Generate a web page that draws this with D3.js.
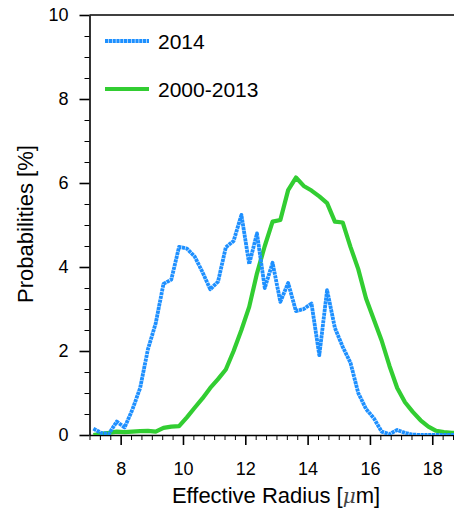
<!DOCTYPE html>
<html>
<head>
<meta charset="utf-8">
<script src="https://cdn.jsdelivr.net/npm/d3@7"></script>
<style>
  html, body { margin: 0; padding: 0; background: #fff; }
  svg { display: block; }
  text { font-family: "Liberation Sans", Arial, Helvetica, sans-serif; fill: #000; }
</style>
</head>
<body>
<svg id="chart" width="454" height="512"></svg>
<script>
// ---- data ----
const radius = [7.125, 7.375, 7.625, 7.875, 8.125, 8.375, 8.625, 8.875, 9.125, 9.375,
  9.625, 9.875, 10.125, 10.375, 10.625, 10.875, 11.125, 11.375, 11.625, 11.875,
  12.125, 12.375, 12.625, 12.875, 13.125, 13.375, 13.625, 13.875, 14.125, 14.375,
  14.625, 14.875, 15.125, 15.375, 15.625, 15.875, 16.125, 16.375, 16.625, 16.875,
  17.125, 17.375, 17.625, 17.875, 18.125, 18.375, 18.625, 18.875];
const prob2014 = [0.15, 0.05, 0.03, 0.32, 0.18, 0.6, 1.12, 2.04, 2.66, 3.6,
  3.7, 4.48, 4.44, 4.25, 3.88, 3.47, 3.65, 4.47, 4.62, 5.24,
  4.07, 4.8, 3.5, 4.1, 3.17, 3.62, 2.95, 3.0, 3.13, 1.9,
  3.45, 2.55, 2.1, 1.72, 1.0, 0.62, 0.4, 0.08, 0.02, 0.12,
  0.05, 0.01, 0.0, 0.0, 0.0, 0.0, 0.0, 0.0];
const prob2000_2013 = [0.0, 0.03, 0.05, 0.08, 0.07, 0.08, 0.09, 0.1, 0.08, 0.17,
  0.2, 0.21, 0.42, 0.65, 0.87, 1.12, 1.33, 1.56, 2.0, 2.5,
  3.05, 3.85, 4.5, 5.08, 5.12, 5.83, 6.13, 5.93, 5.82, 5.68,
  5.52, 5.08, 5.06, 4.48, 3.95, 3.25, 2.75, 2.25, 1.65, 1.12,
  0.78, 0.55, 0.35, 0.2, 0.1, 0.07, 0.05, 0.05];
const seriesNames = ["2014", "2000-2013"];
const seriesColors = ["#1E90FF", "#32CD32"];
const xMajorTicks = [8, 10, 12, 14, 16, 18];
const yMajorTicks = [0, 2, 4, 6, 8, 10];
const xTitle = "Effective Radius [";
const xTitleMu = "\u03BC";
const xTitleEnd = "m]";
const yTitle = "Probabilities [%]";

// ---- layout ----
const svg = d3.select("#chart");
const L = 89.5, T = 15, B = 435;
const x = d3.scaleLinear().domain([7, 19]).range([L, L + 12 * 31.16]);
const y = d3.scaleLinear().domain([0, 10]).range([B, T]);
const R = x(19);

const xMinor = d3.range(0, 37).map(i => 7 + i / 3).filter(v => !xMajorTicks.some(t => Math.abs(t - v) < 1e-6));
const yMinor = d3.range(0, 21).map(i => i * 0.5).filter(v => !yMajorTicks.includes(v));

svg.append("defs").append("clipPath").attr("id", "clip")
  .append("rect").attr("x", L).attr("y", T).attr("width", R - L).attr("height", B - T);

// frame top/right
svg.append("line").attr("x1", L).attr("x2", R).attr("y1", T).attr("y2", T)
  .attr("stroke", "#000").attr("stroke-width", 1.6);
svg.append("line").attr("x1", R).attr("x2", R).attr("y1", T).attr("y2", B)
  .attr("stroke", "#000").attr("stroke-width", 1.6);

// minor ticks
svg.append("g").attr("transform", `translate(0,${B})`)
  .call(d3.axisBottom(x).tickValues(xMinor).tickSize(5).tickFormat(""))
  .call(g => g.select(".domain").remove())
  .call(g => g.selectAll("line").attr("stroke-width", 1));
svg.append("g").attr("transform", `translate(${L},0)`)
  .call(d3.axisLeft(y).tickValues(yMinor).tickSize(5).tickFormat(""))
  .call(g => g.select(".domain").remove())
  .call(g => g.selectAll("line").attr("stroke-width", 1));

// major axes
const xAxis = svg.append("g").attr("transform", `translate(0,${B})`)
  .call(d3.axisBottom(x).tickValues(xMajorTicks).tickSize(10).tickSizeOuter(0).tickPadding(17).tickFormat(d3.format("d")));
const yAxis = svg.append("g").attr("transform", `translate(${L},0)`)
  .call(d3.axisLeft(y).tickValues(yMajorTicks).tickSize(10).tickSizeOuter(0).tickPadding(11).tickFormat(d3.format("d")));
[xAxis, yAxis].forEach(a => {
  a.select(".domain").attr("stroke-width", 1.6);
  a.selectAll(".tick line").attr("stroke-width", 1.6);
  a.selectAll("text").attr("font-size", 18).attr("font-family", "Liberation Sans, Arial, sans-serif").attr("fill", "#000");
});

// series
const line = d3.line().x(d => x(d[0])).y(d => y(d[1]));
const plot = svg.append("g").attr("clip-path", "url(#clip)");
plot.append("path")
  .datum(radius.map((r, i) => [r, prob2000_2013[i]]))
  .attr("d", line).attr("fill", "none")
  .attr("stroke", seriesColors[1]).attr("stroke-width", 4.2).attr("stroke-linejoin", "round");
plot.append("path")
  .datum(radius.map((r, i) => [r, prob2014[i]]))
  .attr("d", line).attr("fill", "none")
  .attr("stroke", seriesColors[0]).attr("stroke-width", 3.8)
  .attr("stroke-dasharray", "3.2,0.6").attr("stroke-linejoin", "round");

// legend
const legY = [41, 89];
seriesNames.forEach((name, i) => {
  const ln = svg.append("line").attr("x1", 105).attr("x2", 149)
    .attr("y1", legY[i]).attr("y2", legY[i])
    .attr("stroke", seriesColors[i]).attr("stroke-width", i === 0 ? 3.8 : 4.2);
  if (i === 0) ln.attr("stroke-dasharray", "3.2,0.6");
  svg.append("text").attr("x", 158).attr("y", legY[i] + 8)
    .attr("font-size", 21).text(name);
});

// axis titles
const xt = svg.append("text").attr("x", 276).attr("y", 503)
  .attr("text-anchor", "middle").attr("font-size", 22);
xt.append("tspan").text(xTitle);
xt.append("tspan").attr("font-family", "DejaVu Serif, serif").attr("font-style", "italic")
  .attr("font-size", 20).attr("fill", "#444").text(xTitleMu);
xt.append("tspan").text(xTitleEnd);

svg.append("text").attr("transform", "translate(33,224) rotate(-90)")
  .attr("text-anchor", "middle").attr("font-size", 22).text(yTitle);
</script>
</body>
</html>
